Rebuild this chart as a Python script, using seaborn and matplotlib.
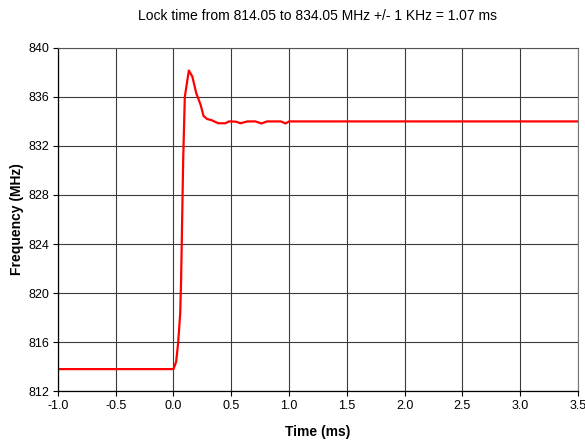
import numpy as np
import pandas as pd
import seaborn as sns
import matplotlib.pyplot as plt

# values
time_ms = [-1.0, 0.0, 0.023, 0.04, 0.058, 0.066, 0.084, 0.098, 0.133, 0.163,
           0.197, 0.235, 0.26, 0.29, 0.33, 0.387, 0.45, 0.48, 0.54, 0.58,
           0.64, 0.71, 0.76, 0.81, 0.93, 0.97, 1.0, 3.5]
freq_mhz = [813.8, 813.8, 814.4, 815.9, 818.3, 821.1, 830.9, 836.0, 838.15, 837.66,
            836.3, 835.35, 834.45, 834.2, 834.1, 833.85, 833.85, 834.0, 833.98, 833.85,
            834.0, 834.0, 833.83, 834.0, 834.0, 833.83, 834.0, 834.0]
x_ticks = [-1.0, -0.5, 0.0, 0.5, 1.0, 1.5, 2.0, 2.5, 3.0, 3.5]
y_ticks = [812, 816, 820, 824, 828, 832, 836, 840]

df = pd.DataFrame({"Time (ms)": time_ms, "Frequency (MHz)": freq_mhz})

sns.set_style("ticks")
plt.rcParams["font.family"] = ["Liberation Sans", "DejaVu Sans"]
plt.rcParams["text.color"] = "black"
plt.rcParams["axes.labelcolor"] = "black"

fig = plt.figure(figsize=(5.85, 4.43), dpi=100)
ax = fig.add_axes([0.099, 0.117, 0.889, 0.775])

sns.lineplot(data=df, x="Time (ms)", y="Frequency (MHz)", color="#ff0000",
             linewidth=1.6, ax=ax, sort=False)

ax.set_xlim(-1.0, 3.5)
ax.set_ylim(812, 840)
ax.set_xticks(x_ticks)
ax.set_xticklabels([f"{v:.1f}" for v in x_ticks])
ax.set_yticks(y_ticks)
ax.grid(True, color="#3a3a3a", linewidth=0.8)
ax.set_axisbelow(True)

for s in ax.spines.values():
    s.set_color("black")
    s.set_linewidth(0.9)
ax.spines["top"].set_color("#555555")
ax.spines["right"].set_color("#777777")
ax.spines["top"].set_linewidth(0.8)
ax.spines["right"].set_linewidth(0.8)

ax.tick_params(axis="both", direction="out", length=3.5, width=0.8,
               labelsize=9, colors="black", pad=3)
ax.set_xlabel("Time (ms)", fontsize=10, fontweight="bold", labelpad=9)
ax.set_ylabel("Frequency (MHz)", fontsize=10, fontweight="bold", labelpad=3)
ax.set_title("Lock time from 814.05 to 834.05 MHz +/- 1 KHz = 1.07 ms",
             fontsize=10, pad=20, color="black")

fig.savefig("out.png", dpi=100)
